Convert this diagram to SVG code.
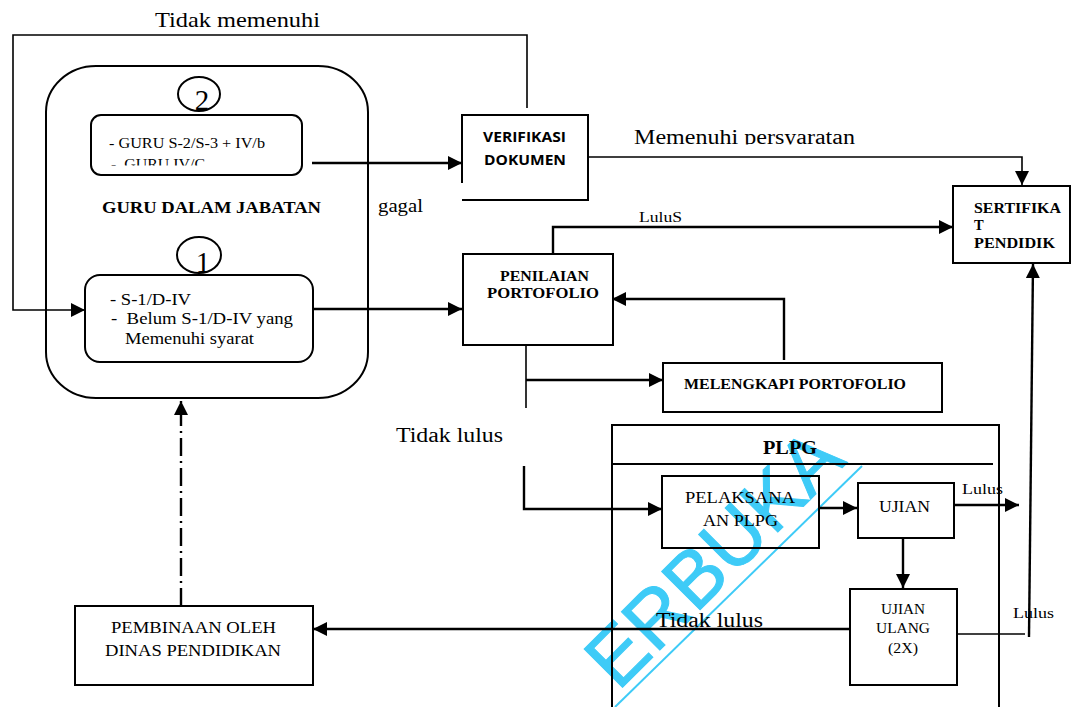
<svg xmlns="http://www.w3.org/2000/svg" width="1080" height="707" viewBox="0 0 1080 707">
<style>
.t{font-family:"Liberation Serif","Times New Roman",serif;fill:#000}
.b{font-weight:bold}
.sans{font-family:"Open Sans","Liberation Sans",sans-serif;font-weight:bold;fill:#000}
.box{fill:none;stroke:#000;stroke-width:2}
.ln{fill:none;stroke:#000;stroke-width:2.4}
.thin{fill:none;stroke:#000;stroke-width:1.6}
.wm{font-family:"Liberation Sans",Arial,sans-serif;fill:#3ECBF7;stroke:#3ECBF7;stroke-width:1}
</style>
<defs>
<marker id="ah" markerUnits="userSpaceOnUse" markerWidth="16" markerHeight="16" refX="14" refY="7" orient="auto"><path d="M0,0 L14,7 L0,14 z" fill="#000"/></marker>
<clipPath id="clipMem"><rect x="600" y="100" width="300" height="44.5"/></clipPath>
<clipPath id="clipGuru"><rect x="95" y="140" width="200" height="25.5"/></clipPath>
</defs>
<rect x="0" y="0" width="1080" height="707" fill="#fff"/>

<g id="watermark">
<text class="wm" x="618" y="692" font-size="79" transform="rotate(-45 618 692)">ERBUKA</text>
<line x1="615" y1="707" x2="862" y2="466" stroke="#3ECBF7" stroke-width="2"/>
</g>

<g id="connectors">
<path class="thin" d="M527,108 V35 H13 V310 H85" marker-end="url(#ah)"/>
<path class="ln" d="M312,163 H462" marker-end="url(#ah)"/>
<path class="ln" d="M313,309 H462" marker-end="url(#ah)"/>
<path class="thin" d="M588,157 H1022 V185" marker-end="url(#ah)"/>
<path class="ln" d="M553,254 V227 H953" marker-end="url(#ah)"/>
<path class="ln" d="M784,360 V299 H612" marker-end="url(#ah)"/>
<path class="thin" d="M526,345 V408"/>
<path class="ln" d="M526,380 H663" marker-end="url(#ah)"/>
<path class="ln" d="M524,466 V509 H662" marker-end="url(#ah)"/>
<path class="ln" d="M819,508 H857" marker-end="url(#ah)"/>
<path class="ln" d="M903,538 V588" marker-end="url(#ah)"/>
<path class="ln" d="M954,505 H1019" marker-end="url(#ah)"/>
<path class="thin" d="M957,634 H1025"/>
<path class="ln" d="M1029,637 L1033,264" marker-end="url(#ah)"/>
<path class="ln" d="M850,629 H313" marker-end="url(#ah)"/>
<path class="ln" d="M181,606 V401" stroke-dasharray="18 5 2 5" marker-end="url(#ah)"/>
<text class="t" x="155" y="27" font-size="22" textLength="165" lengthAdjust="spacingAndGlyphs">Tidak memenuhi</text>
<text class="t" x="634" y="144" font-size="20" textLength="221" lengthAdjust="spacingAndGlyphs" clip-path="url(#clipMem)">Memenuhi persyaratan</text>
<text class="t" x="378" y="212" font-size="19" textLength="45" lengthAdjust="spacingAndGlyphs">gagal</text>
<text class="t" x="639" y="222" font-size="15" textLength="43" lengthAdjust="spacingAndGlyphs">LuluS</text>
<text class="t" x="396" y="442" font-size="20" textLength="107" lengthAdjust="spacingAndGlyphs">Tidak lulus</text>
<text class="t" x="656" y="627" font-size="20" textLength="107" lengthAdjust="spacingAndGlyphs">Tidak lulus</text>
<text class="t" x="962" y="494" font-size="15" textLength="41" lengthAdjust="spacingAndGlyphs">Lulus</text>
<text class="t" x="1013" y="618" font-size="15" textLength="41" lengthAdjust="spacingAndGlyphs">Lulus</text>
</g>

<g id="guru-dalam-jabatan">
<rect class="box" x="46" y="66" width="322" height="332" rx="50" ry="46"/>
<text class="t b" x="102" y="213" font-size="16.5" textLength="219" lengthAdjust="spacingAndGlyphs">GURU DALAM JABATAN</text>
</g>

<g id="circle-2">
<ellipse class="box" cx="199" cy="94" rx="21" ry="17"/>
<text class="t" x="202" y="110" font-size="29" text-anchor="middle">2</text>
</g>

<g id="guru-s2">
<rect class="box" x="91" y="115" width="211" height="60" rx="10"/>
<text class="t" x="109" y="148" font-size="14" textLength="156" lengthAdjust="spacingAndGlyphs">- GURU S-2/S-3 + IV/b</text>
<text class="t" x="111" y="169" font-size="14" textLength="94" lengthAdjust="spacingAndGlyphs" clip-path="url(#clipGuru)" xml:space="preserve">-  GURU IV/C</text>
</g>

<g id="circle-1">
<ellipse class="box" cx="199" cy="255" rx="22" ry="18"/>
<text class="t" x="203" y="272" font-size="29" text-anchor="middle">1</text>
</g>

<g id="guru-s1">
<rect class="box" x="85" y="275" width="228" height="87" rx="15"/>
<text class="t" x="110" y="305" font-size="16" textLength="81" lengthAdjust="spacingAndGlyphs">- S-1/D-IV</text>
<text class="t" x="111" y="324" font-size="16" textLength="182" lengthAdjust="spacingAndGlyphs" xml:space="preserve">-  Belum S-1/D-IV yang</text>
<text class="t" x="125" y="344" font-size="16" textLength="129" lengthAdjust="spacingAndGlyphs">Memenuhi syarat</text>
</g>

<g id="verifikasi">
<path class="box" d="M462,183 V115 H588 V200 H462"/>
<text class="sans" x="483" y="142" font-size="15" textLength="83" lengthAdjust="spacingAndGlyphs">VERIFIKASI</text>
<text class="sans" x="484" y="165" font-size="15" textLength="82" lengthAdjust="spacingAndGlyphs">DOKUMEN</text>
</g>

<g id="sertifikat">
<rect class="box" x="953" y="186" width="117" height="77"/>
<text class="t b" x="974" y="213" font-size="14.5" textLength="87" lengthAdjust="spacingAndGlyphs">SERTIFIKA</text>
<text class="t b" x="974" y="230" font-size="14.5">T</text>
<text class="t b" x="974" y="248" font-size="14.5" textLength="81" lengthAdjust="spacingAndGlyphs">PENDIDIK</text>
</g>

<g id="penilaian">
<rect class="box" x="463" y="254" width="150" height="91"/>
<text class="t b" x="500" y="281" font-size="14" textLength="89" lengthAdjust="spacingAndGlyphs">PENILAIAN</text>
<text class="t b" x="487" y="298" font-size="14" textLength="112" lengthAdjust="spacingAndGlyphs">PORTOFOLIO</text>
</g>

<g id="melengkapi">
<rect class="box" x="663" y="363" width="279" height="49"/>
<text class="t b" x="684" y="389" font-size="14" textLength="222" lengthAdjust="spacingAndGlyphs">MELENGKAPI PORTOFOLIO</text>
</g>

<g id="plpg">
<path class="box" d="M612,710 V425 H999 V710"/>
<line x1="612" y1="464" x2="993" y2="464" stroke="#000" stroke-width="2"/>
<text class="t b" x="763" y="454" font-size="18" textLength="54" lengthAdjust="spacingAndGlyphs">PLPG</text>
</g>

<g id="pelaksanaan">
<rect class="box" x="662" y="476" width="157" height="72"/>
<text class="t" x="685" y="503" font-size="16" textLength="110" lengthAdjust="spacingAndGlyphs">PELAKSANA</text>
<text class="t" x="703" y="526" font-size="16" textLength="75" lengthAdjust="spacingAndGlyphs">AN PLPG</text>
</g>

<g id="ujian">
<rect class="box" x="858" y="483" width="96" height="55"/>
<text class="t" x="879" y="512" font-size="16" textLength="51" lengthAdjust="spacingAndGlyphs">UJIAN</text>
</g>

<g id="ujian-ulang">
<rect class="box" x="850" y="589" width="107" height="96"/>
<text class="t" x="881" y="614" font-size="15" textLength="44" lengthAdjust="spacingAndGlyphs">UJIAN</text>
<text class="t" x="876" y="633" font-size="15" textLength="54" lengthAdjust="spacingAndGlyphs">ULANG</text>
<text class="t" x="888" y="653" font-size="15" textLength="30" lengthAdjust="spacingAndGlyphs">(2X)</text>
</g>

<g id="pembinaan">
<rect class="box" x="75" y="606" width="238" height="79"/>
<text class="t" x="111" y="633" font-size="16" textLength="165" lengthAdjust="spacingAndGlyphs">PEMBINAAN OLEH</text>
<text class="t" x="105" y="656" font-size="16" textLength="176" lengthAdjust="spacingAndGlyphs">DINAS PENDIDIKAN</text>
</g>
</svg>
